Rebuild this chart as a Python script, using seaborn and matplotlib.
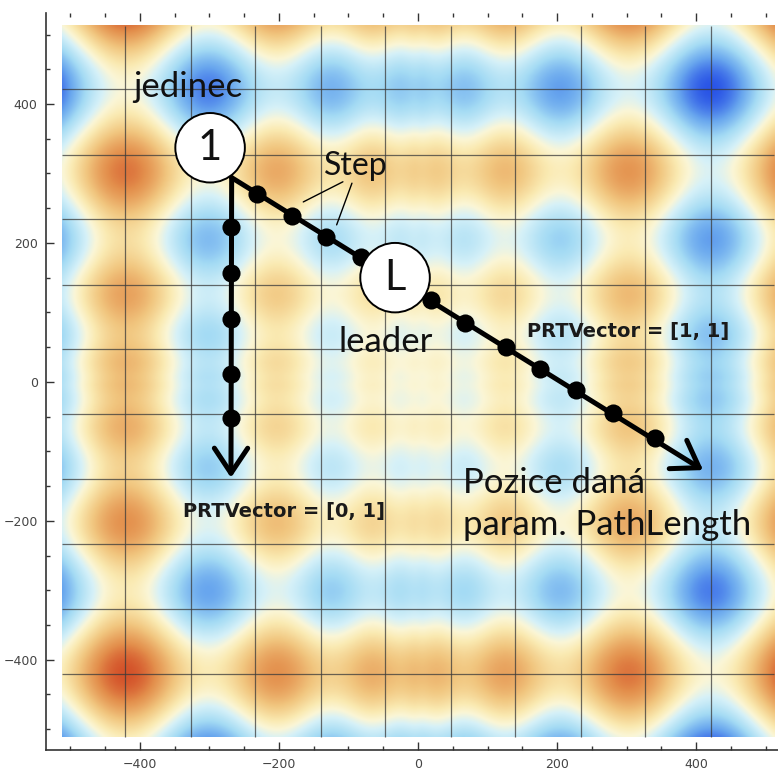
import numpy as np
import matplotlib.pyplot as plt
import seaborn as sns
from matplotlib.colors import LinearSegmentedColormap
from matplotlib.patches import Circle
from matplotlib.ticker import MultipleLocator

sns.set_style("ticks")

# grid lines of the density plot
grid_lines = [-421, -327, -234, -140, -47, 47, 140, 234, 327, 421]

# path of individual "1" towards the leader (PRTVector = [1, 1])
start_pt = (-268, 294)
diag_x = [-232, -181, -132, -82, 19, 68, 127, 176, 227, 281, 341]
diag_y = [271, 239, 209, 180, 118, 85, 50, 19, -12, -45, -81]
diag_tip = (410, -127)

# path with PRTVector = [0, 1]
vert_x = [-269, -269, -269, -269, -269]
vert_y = [223, 156, 91, 12, -52]
vert_tip = (-269, -138)

indiv_pos = (-299, 337)
leader_pos = (-33, 150)

# colours of the surface, red = low, blue = high
cmap = LinearSegmentedColormap.from_list("temp", [
    (0.00, "#d4532a"), (0.12, "#e38f4c"), (0.28, "#f1c67f"),
    (0.42, "#faeab2"), (0.50, "#fbf6d6"), (0.58, "#d6f1f8"),
    (0.72, "#a4dbf4"), (0.86, "#68a6ee"), (1.00, "#2a55e6")])

# Schwefel type surface
xs = np.linspace(-512, 512, 500)
X, Y = np.meshgrid(xs, xs)
Z = X * np.sin(np.sqrt(np.abs(X))) + Y * np.sin(np.sqrt(np.abs(Y)))

fig = plt.figure(figsize=(7.78, 7.72), dpi=100)
ax = fig.add_axes([46 / 778, 22 / 772, 744 / 778, 737 / 772])

ax.imshow(Z, extent=(-512, 512, -512, 512), origin="lower", cmap=cmap,
          vmin=-838, vmax=838, interpolation="bicubic", aspect="auto", zorder=0)
ax.vlines(grid_lines, -512, 512, color="#3a3a3a", lw=0.9, alpha=0.75, zorder=1)
ax.hlines(grid_lines, -512, 512, color="#3a3a3a", lw=0.9, alpha=0.75, zorder=1)

arrow = dict(arrowstyle="->,head_length=0.9,head_width=0.6", lw=3.6,
             color="black", mutation_scale=20, shrinkA=0, shrinkB=0)
ax.annotate("", xy=diag_tip, xytext=start_pt, arrowprops=arrow, zorder=3)
ax.annotate("", xy=vert_tip, xytext=start_pt, arrowprops=arrow, zorder=3)

sns.scatterplot(x=diag_x + vert_x, y=diag_y + vert_y, s=170, color="black",
                edgecolor="black", linewidth=0, ax=ax, legend=False, zorder=4)

# "Step" pointers
ax.plot([-108, -165], [288, 259], color="black", lw=1.0, zorder=4)
ax.plot([-95, -117], [286, 226], color="black", lw=1.0, zorder=4)

for pos, lab in [(indiv_pos, "1"), (leader_pos, "L")]:
    ax.add_patch(Circle(pos, 50, facecolor="white", edgecolor="black",
                        lw=1.4, zorder=6))
    ax.text(pos[0], pos[1], lab, fontsize=30, family="Lato", ha="center",
            va="center", color="#111111", zorder=7)

txt = dict(family="Lato", fontsize=25, color="#111111", zorder=7)
ax.text(-331, 410, "jedinec", ha="center", va="baseline", **txt)
ax.text(-89, 298, "Step", ha="center", va="baseline", **dict(txt, fontsize=23))
ax.text(-46, 43, "leader", ha="center", va="baseline", **txt)
ax.text(65, -160, "Pozice daná", ha="left", va="baseline", **txt)
ax.text(65, -220, "param. PathLength", ha="left", va="baseline", **txt)

bold = dict(family="DejaVu Sans", fontsize=14, fontweight="bold",
            color="#1a1a1a", zorder=7, ha="center", va="center")
ax.text(302, 72, "PRTVector = [1, 1]", **bold)
ax.text(-192, -187, "PRTVector = [0, 1]", **bold)

ax.set_xlim(-535, 535)
ax.set_ylim(-530, 531)
ax.set_xticks([-400, -200, 0, 200, 400])
ax.set_yticks([-400, -200, 0, 200, 400])
ax.xaxis.set_minor_locator(MultipleLocator(50))
ax.yaxis.set_minor_locator(MultipleLocator(50))
ax.tick_params(which="both", direction="in", top=True, right=True,
               color="#333333", width=1.0)
ax.tick_params(which="major", length=6, labelsize=9, labelcolor="#444444", pad=6)
ax.tick_params(which="minor", length=3)
for side in ["top", "right"]:
    ax.spines[side].set_visible(False)
for side in ["left", "bottom"]:
    ax.spines[side].set_color("#333333")
    ax.spines[side].set_linewidth(1.2)

fig.savefig("out.png", dpi=100)
